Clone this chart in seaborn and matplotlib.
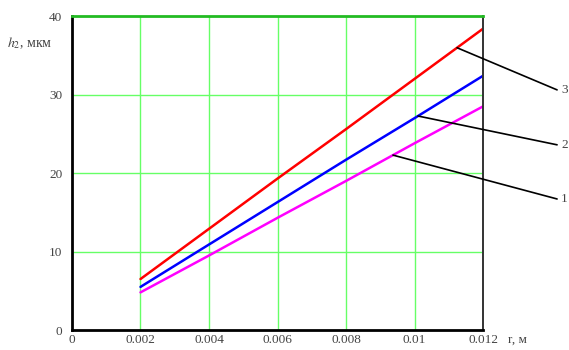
import matplotlib
matplotlib.use("Agg")
import matplotlib.pyplot as plt
import numpy as np
import pandas as pd
import seaborn as sns

# radius r, m
r_values = [0.002, 0.004, 0.006, 0.008, 0.010, 0.012]
# h2, um for curves 1..3
h_curve1 = [4.8, 9.5, 14.3, 19.0, 23.8, 28.5]
h_curve2 = [5.5, 10.9, 16.3, 21.7, 27.0, 32.4]
h_curve3 = [6.5, 12.9, 19.3, 25.6, 32.0, 38.4]

x_ticks = [0, 0.002, 0.004, 0.006, 0.008, 0.01, 0.012]
x_tick_labels = ["0", "0.002", "0.004", "0.006", "0.008", "0.01", "0.012"]
y_ticks = [0, 10, 20, 30, 40]

curve_names = ["1", "2", "3"]
curve_colors = ["#ff00ff", "#0000ff", "#ff0000"]
# where the leader lines touch each curve (r, m)
leader_r = [0.00937, 0.0101, 0.01124]
label_h = [16.7, 23.6, 30.6]

sns.set_theme(style="white")
plt.rcParams["font.family"] = ["Liberation Serif", "DejaVu Serif"]
plt.rcParams["mathtext.fontset"] = "stix"

df = pd.DataFrame({
    "r": r_values * 3,
    "h": h_curve1 + h_curve2 + h_curve3,
    "curve": [n for n in curve_names for _ in r_values],
})

fig = plt.figure(figsize=(5.69, 3.5), dpi=100)
ax = fig.add_axes([0.1265, 0.057, 0.7225, 0.897])

grid_color = "#66ff66"
for xv in x_ticks[1:-1]:
    ax.axvline(xv, color=grid_color, lw=1.0, zorder=0)
for yv in y_ticks[1:-1]:
    ax.axhline(yv, color=grid_color, lw=1.0, zorder=0)

sns.lineplot(data=df, x="r", y="h", hue="curve", palette=curve_colors,
             linewidth=1.8, legend=False, ax=ax)

ax.set_xlim(0, 0.012)
ax.set_ylim(0, 40)
ax.set_xticks(x_ticks)
ax.set_xticklabels(x_tick_labels)
ax.set_yticks(y_ticks)
ax.tick_params(axis="both", length=0, labelsize=9.5, labelcolor="#444444")
ax.tick_params(axis="x", pad=2.5)
ax.tick_params(axis="y", pad=7)
ax.set_xlabel("")
ax.set_ylabel("")

for side in ["left", "bottom"]:
    ax.spines[side].set_color("black")
    ax.spines[side].set_linewidth(2.0)
ax.spines["right"].set_color("#333333")
ax.spines["right"].set_linewidth(1.4)
ax.spines["top"].set_color("#22bb22")
ax.spines["top"].set_linewidth(2.0)

# leader lines with curve numbers
series = [h_curve1, h_curve2, h_curve3]
for name, rr, hy, ys in zip(curve_names, leader_r, label_h, series):
    hv = np.interp(rr, r_values, ys)
    ax.annotate("", xy=(rr, hv), xytext=(0.01416, hy),
                arrowprops=dict(arrowstyle="-", color="black", lw=1.2,
                                shrinkA=0, shrinkB=0),
                annotation_clip=False)
    ax.text(0.01428, hy, name, ha="left", va="center", fontsize=9.5,
            color="#444444", clip_on=False)

fig.text(0.012, 0.878, r"$h_2$, мкм", fontsize=10, color="#444444",
         ha="left", va="center")
fig.text(0.893, 0.012, "r, м", fontsize=9.5, color="#444444",
         ha="left", va="bottom")

fig.savefig("out.png", dpi=100)
plt.close(fig)
